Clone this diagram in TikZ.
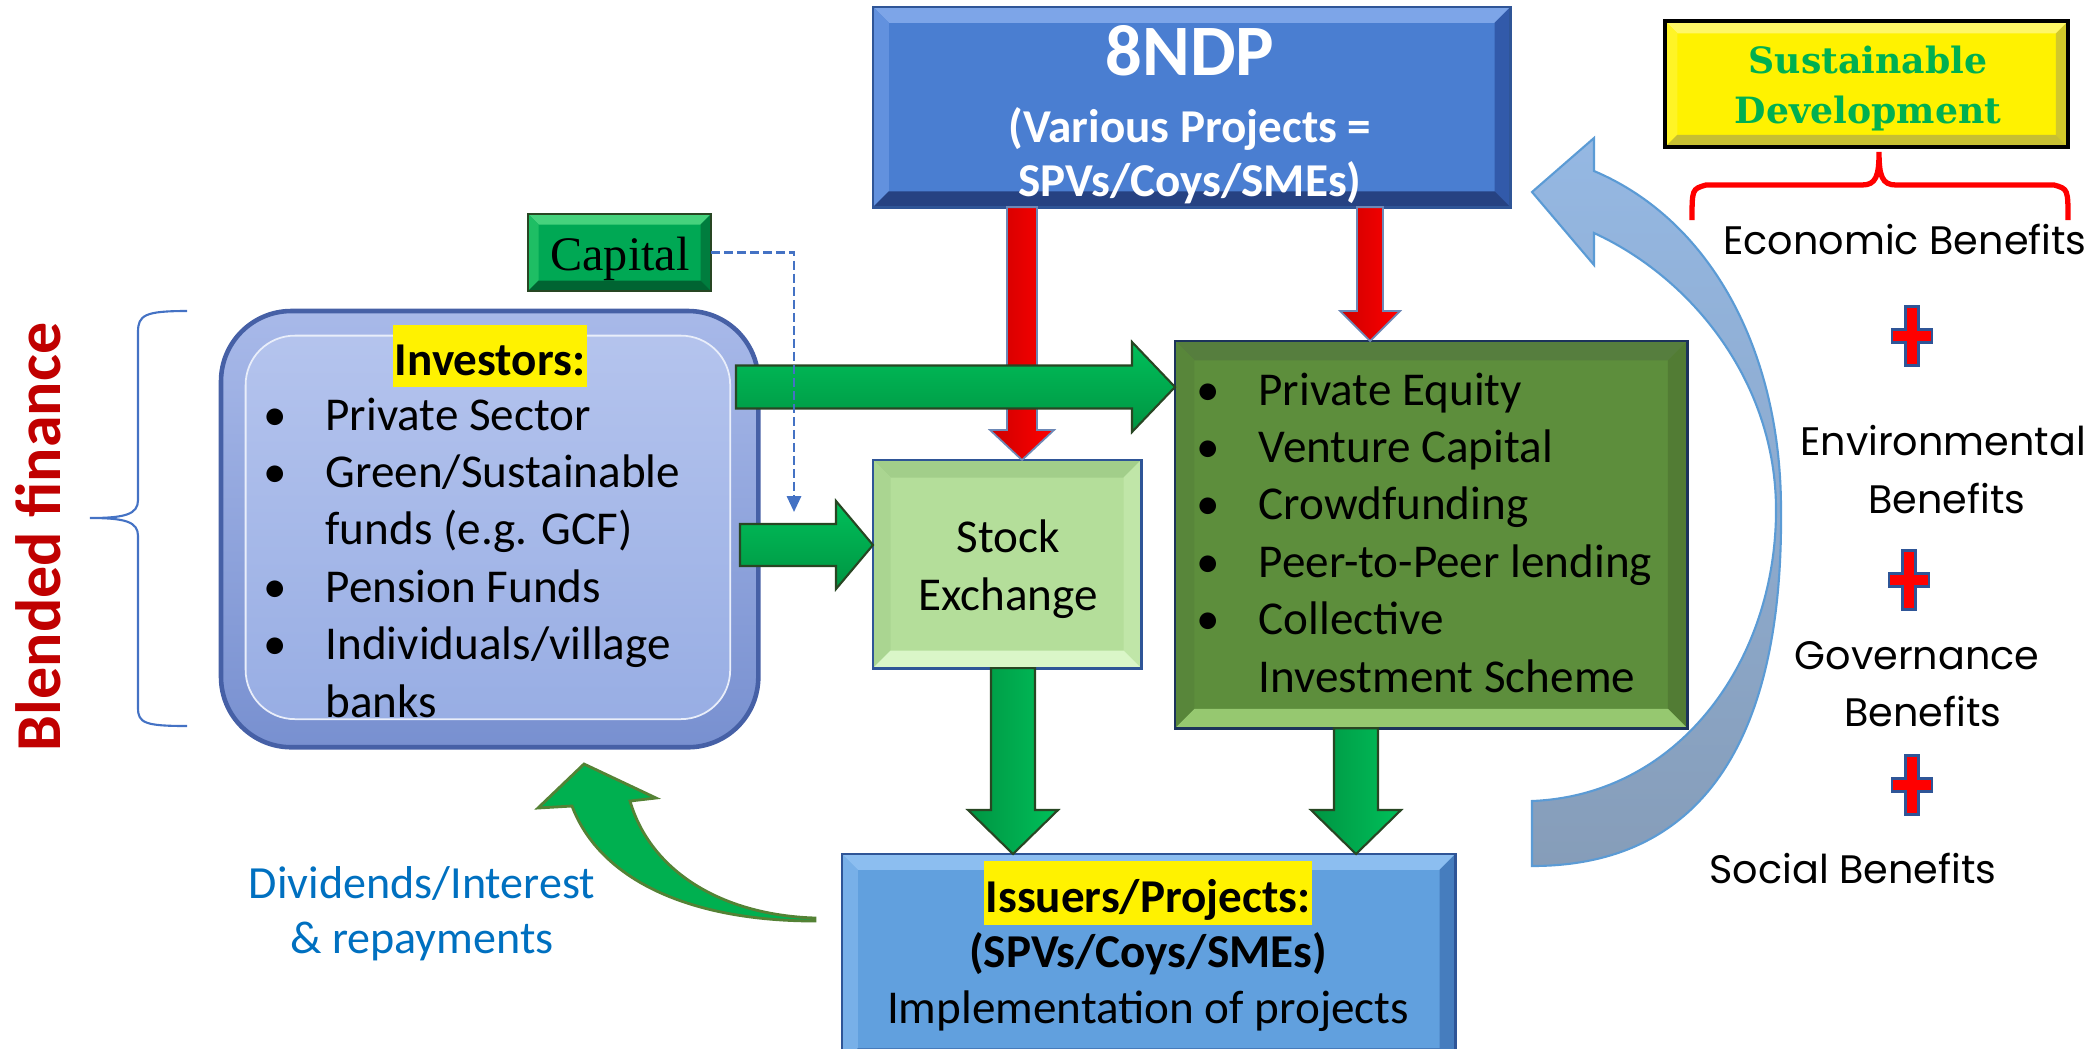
\documentclass[tikz,border=0pt]{standalone}
\usepackage{fontspec}
\setmainfont{Carlito}
\newfontfamily\gothic{Poppins}
\newfontfamily\tms{Liberation Serif}
\newfontfamily\dvs{DejaVu Serif}
\usetikzlibrary{calc,arrows.meta}
\setlength{\fboxsep}{0.5pt}
\def\upx{0.28453pt}
\newcommand\bodyfont{\fontsize{13.4}{16.33}\selectfont}
\newcommand\bul{\makebox[17.6pt][l]{\textbullet}}
\newcommand\ind{\hspace*{17.6pt}}
% colours
\definecolor{ndpblue}{RGB}{74,126,209}
\definecolor{ndptop}{RGB}{125,165,232}
\definecolor{ndpleft}{RGB}{98,145,222}
\definecolor{ndpright}{RGB}{50,90,170}
\definecolor{ndpbot}{RGB}{38,66,130}
\definecolor{capfill}{RGB}{0,168,84}
\definecolor{captop}{RGB}{70,210,125}
\definecolor{capleft}{RGB}{30,190,100}
\definecolor{capright}{RGB}{0,125,62}
\definecolor{capbot}{RGB}{0,100,50}
\definecolor{stkfill}{RGB}{180,222,154}
\definecolor{stktop}{RGB}{162,206,138}
\definecolor{stkleft}{RGB}{170,213,145}
\definecolor{stkright}{RGB}{192,230,168}
\definecolor{stkbot}{RGB}{218,246,200}
\definecolor{pefill}{RGB}{93,142,60}
\definecolor{petop}{RGB}{86,126,62}
\definecolor{peleft}{RGB}{88,134,58}
\definecolor{peright}{RGB}{82,124,52}
\definecolor{pebot}{RGB}{150,200,112}
\definecolor{issfill}{RGB}{97,160,222}
\definecolor{isstop}{RGB}{140,190,240}
\definecolor{issleft}{RGB}{120,176,232}
\definecolor{issright}{RGB}{70,125,190}
\definecolor{issbot}{RGB}{58,106,170}
\definecolor{navy}{RGB}{47,85,151}
\definecolor{gdark}{RGB}{0,148,66}
\definecolor{gmid}{RGB}{80,246,160}
\definecolor{gbase}{RGB}{0,192,90}
\definecolor{gline}{RGB}{40,70,35}
\definecolor{rdark}{RGB}{205,0,0}
\definecolor{rmid}{RGB}{255,45,45}
\definecolor{rbase}{RGB}{255,0,0}
\definecolor{arcTop}{RGB}{149,184,227}
\definecolor{arcBot}{RGB}{134,157,185}
\definecolor{arcLine}{RGB}{91,155,213}
\definecolor{darkred}{RGB}{192,0,0}
\definecolor{divblue}{RGB}{0,112,192}
\definecolor{bracebl}{RGB}{68,114,196}
\definecolor{susgreen}{RGB}{0,176,80}
\definecolor{divgreen}{RGB}{0,176,80}
\definecolor{divline}{RGB}{84,130,53}
\definecolor{invTop}{RGB}{182,197,238}
\definecolor{invBot}{RGB}{150,172,227}
\definecolor{invRimT}{RGB}{168,185,233}
\definecolor{invRimB}{RGB}{120,144,208}
\definecolor{invLine}{RGB}{70,96,166}
% block arrows: style, from, to, shaft half, head half, head length (px)
\newcommand\vblock[6]{\path[#1] let \p1=(#2), \p2=(#3) in
  ({\x1-#4*\upx},\y1) -- ({\x1-#4*\upx},{\y2+#6*\upx}) -- ({\x1-#5*\upx},{\y2+#6*\upx}) -- (\x1,\y2)
  -- ({\x1+#5*\upx},{\y2+#6*\upx}) -- ({\x1+#4*\upx},{\y2+#6*\upx}) -- ({\x1+#4*\upx},\y1) -- cycle;}
\newcommand\hblock[6]{\path[#1] let \p1=(#2), \p2=(#3) in
  (\x1,{\y1+#4*\upx}) -- ({\x2-#6*\upx},{\y1+#4*\upx}) -- ({\x2-#6*\upx},{\y1+#5*\upx}) -- (\x2,\y1)
  -- ({\x2-#6*\upx},{\y1-#5*\upx}) -- ({\x2-#6*\upx},{\y1-#4*\upx}) -- (\x1,{\y1-#4*\upx}) -- cycle;}
\newcommand\plussign[2]{\filldraw[plusst] ({#1-6.5},{#2-29.5}) -- ({#1+6.5},{#2-29.5}) -- ({#1+6.5},{#2-6.5})
  -- ({#1+20},{#2-6.5}) -- ({#1+20},{#2+6.5}) -- ({#1+6.5},{#2+6.5}) -- ({#1+6.5},{#2+29.5})
  -- ({#1-6.5},{#2+29.5}) -- ({#1-6.5},{#2+6.5}) -- ({#1-20},{#2+6.5}) -- ({#1-20},{#2-6.5})
  -- ({#1-6.5},{#2-6.5}) -- cycle;}
\tikzset{
  bevel/.style n args={5}{path picture={
    \fill[#1] (path picture bounding box.north west) -- (path picture bounding box.north east)
      -- ([shift={(-#5,-#5)}]path picture bounding box.north east) -- ([shift={(#5,-#5)}]path picture bounding box.north west) -- cycle;
    \fill[#2] (path picture bounding box.north west) -- ([shift={(#5,-#5)}]path picture bounding box.north west)
      -- ([shift={(#5,#5)}]path picture bounding box.south west) -- (path picture bounding box.south west) -- cycle;
    \fill[#3] (path picture bounding box.north east) -- ([shift={(-#5,-#5)}]path picture bounding box.north east)
      -- ([shift={(-#5,#5)}]path picture bounding box.south east) -- (path picture bounding box.south east) -- cycle;
    \fill[#4] (path picture bounding box.south west) -- (path picture bounding box.south east)
      -- ([shift={(-#5,#5)}]path picture bounding box.south east) -- ([shift={(#5,#5)}]path picture bounding box.south west) -- cycle;
  }},
  boxbase/.style={draw, inner sep=0, outer sep=0, anchor=north west},
  txt/.style={inner sep=0, anchor=base, font=\bodyfont},
  redarrow/.style={left color=rdark, middle color=rmid, right color=rbase, draw=navy!70, line width=0.5pt},
  greenv/.style={left color=gdark, middle color=gmid, right color=gbase, draw=gline, line width=0.6pt},
  greenh/.style={top color=gbase, middle color=gmid, bottom color=gdark, draw=gline, line width=0.6pt},
  plusst/.style={fill=red, draw=navy, line width=0.8pt},
  benefit/.style={inner sep=0, anchor=base, font=\gothic\fontsize{11.3}{13}\selectfont},
}
\begin{document}
\begin{tikzpicture}[x=0.01cm,y=-0.01cm]
\useasboundingbox (0,0) rectangle (2095,1048);

% big light-blue curved arrow (back to 8NDP)
\filldraw[top color=arcTop, bottom color=arcBot, draw=arcLine, line width=0.6pt]
  (1532,866) .. controls (1712,866) and (1783,725) .. (1781,510)
  .. controls (1781,350) and (1710,220) .. (1594,171)
  -- (1594,138) -- (1532,192) -- (1594,265) -- (1594,233)
  .. controls (1692,278) and (1776,382) .. (1776,510)
  .. controls (1776,660) and (1680,795) .. (1532,801) -- cycle;

% boxes
\node[boxbase, draw=navy, line width=0.8pt, fill=ndpblue, minimum width=6.37cm, minimum height=2cm,
  bevel={ndptop}{ndpleft}{ndpright}{ndpbot}{4.5pt}] (ndp) at (873,7) {};
\node[boxbase, draw=gline, line width=0.6pt, fill=capfill, minimum width=1.83cm, minimum height=0.77cm,
  bevel={captop}{capleft}{capright}{capbot}{3pt}] (cap) at (528,214) {};
\node[boxbase, draw=invLine, line width=1.3pt, rounded corners=20pt, top color=invRimT, bottom color=invRimB,
  minimum width=5.37cm, minimum height=4.36cm,
  path picture={\filldraw[top color=invTop, bottom color=invBot, draw=white!70!invTop, line width=0.5pt, rounded corners=14pt]
     ([shift={(7pt,-7pt)}]path picture bounding box.north west) rectangle ([shift={(-8pt,8pt)}]path picture bounding box.south east);}]
  (inv) at (221,311) {};
\node[boxbase, draw=navy, line width=0.8pt, fill=stkfill, minimum width=2.68cm, minimum height=2.08cm,
  bevel={stktop}{stkleft}{stkright}{stkbot}{5pt}] (stk) at (873,460) {};
\node[boxbase, draw=navy!60!black, line width=0.8pt, fill=pefill, minimum width=5.12cm, minimum height=3.87cm,
  bevel={petop}{peleft}{peright}{pebot}{5.5pt}] (pe) at (1175,341) {};
\node[boxbase, draw=navy, line width=0.8pt, fill=issfill, minimum width=6.13cm, minimum height=2.1cm,
  bevel={isstop}{issleft}{issright}{issbot}{4.5pt}] (iss) at (842,854) {};
\node[boxbase, draw=black, line width=1.2pt, fill=yellow, minimum width=4.03cm, minimum height=1.26cm,
  bevel={yellow!60!white}{yellow!85!white}{yellow!80!black}{yellow!75!black}{3.5pt}] (sus) at (1665,21) {};

% helper coordinates for arrow columns / rows
\coordinate (cR1) at (1022,0);
\coordinate (cR2) at (1370,0);
\coordinate (cG1) at (1013,0);
\coordinate (cG2) at (1356,0);
\coordinate (gaS) at (736,387);
\coordinate (gbS) at (740,545);
\coordinate (dtip) at (794,512);

% red arrows from 8NDP
\vblock{redarrow}{ndp.south -| cR1}{stk.north -| cR1}{15}{32}{30}
\vblock{redarrow}{ndp.south -| cR2}{pe.north -| cR2}{13}{30}{30}
% green arrows
\hblock{greenh}{gaS}{pe.west |- gaS}{21.5}{45}{43}
\hblock{greenh}{gbS}{stk.west |- gbS}{21}{44}{37}
\vblock{greenv}{stk.south -| cG1}{iss.north -| cG1}{22}{45}{44}
\vblock{greenv}{pe.south -| cG2}{iss.north -| cG2}{22}{45}{44}

% dashed capital connector
\draw[bracebl, line width=0.7pt, dash pattern=on 2.5pt off 1.2pt, -{Triangle[width=4pt,length=4.5pt]}]
  (cap.east) -| (dtip);

% curved green return arrow (dividends)
\filldraw[fill=divgreen, draw=divline, line width=0.8pt]
  (815,921) .. controls (690,921) and (600,880) .. (572,806)
  -- (538,808) -- (584,764) -- (656,798) -- (630,801)
  .. controls (650,870) and (720,915) .. (815,918) -- cycle;

% braces
\draw[bracebl, line width=0.6pt] (187,311) .. controls (145,311) and (138,315) .. (138,332) -- (138,500)
  .. controls (138,514) and (126,518) .. (90,518) .. controls (126,518) and (138,522) .. (138,536)
  -- (138,708) .. controls (138,723) and (145,726) .. (187,726);
\draw[red, line width=1.5pt] (1692,220) .. controls (1692,189) .. (1706,185) -- (1862,185)
  .. controls (1876,185) and (1879,176) .. (1879,152) .. controls (1879,176) and (1882,185) .. (1896,185)
  -- (2054,185) .. controls (2068,189) .. (2068,220);

% plus signs
\plussign{1912}{336}
\plussign{1909}{580}
\plussign{1912}{785}

% texts
\node[rotate=90, inner sep=0, text=darkred, font=\fontsize{18.2}{20}\selectfont\bfseries] (blend) at (38,537) {Blended finance};
\node[txt, text=white, font=\fontsize{20.6}{24}\selectfont\bfseries] (ndpA) at (1190,75) {8NDP};
\node[txt, text=white, font=\bodyfont\bfseries] (ndpB) at (1190,142) {(Various Projects =};
\node[txt, text=white, font=\bodyfont\bfseries] (ndpC) at (1190,196) {SPVs/Coys/SMEs)};
\node[txt, font=\tms\fontsize{13.7}{16}\selectfont] (capT) at (620,270) {Capital};
\node[txt, font=\bodyfont\bfseries] (invT) at (490,375) {\colorbox{yellow}{\rule[-2.85pt]{0pt}{16.5pt}Investors:}};
\node[inner sep=0, anchor=base west, font=\bodyfont] (invL) at (263,430)
  {\parbox[t]{140pt}{\bul Private Sector\\ \bul Green/Sustainable\\ \ind funds (e.g. GCF)\\ \bul Pension Funds\\ \bul Individuals/village\\ \ind banks}};
\node[txt] (stkA) at (1008,552) {Stock};
\node[txt] (stkB) at (1008,610) {Exchange};
\node[inner sep=0, anchor=base west, font=\bodyfont] (peL) at (1196,405)
  {\parbox[t]{160pt}{\bul Private Equity\\ \bul Venture Capital\\ \bul Crowdfunding\\ \bul Peer-to-Peer lending\\ \bul Collective\\ \ind Investment Scheme}};
\node[txt, font=\bodyfont\bfseries] (issA) at (1148,912) {\colorbox{yellow}{\rule[-3.1pt]{0pt}{17pt}Issuers/Projects:}};
\node[txt, font=\bodyfont\bfseries] (issB) at (1148,967) {(SPVs/Coys/SMEs)};
\node[txt] (issC) at (1148,1023) {Implementation of projects};
\node[txt, text=divblue, font=\fontsize{13.1}{15}\selectfont] (divA) at (422,898) {Dividends/Interest};
\node[txt, text=divblue, font=\fontsize{13.1}{15}\selectfont] (divB) at (422,953) {\& repayments};
\node[txt, text=susgreen, font=\dvs\fontsize{10.3}{12}\selectfont\bfseries] (susA) at (1868,73) {Sustainable};
\node[txt, text=susgreen, font=\dvs\fontsize{10.3}{12}\selectfont\bfseries] (susB) at (1868,123) {Development};
\node[benefit] (b1) at (1905,254) {Economic Benefits};
\node[benefit] (b2a) at (1943,455) {Environmental};
\node[benefit] (b2b) at (1947,513) {Benefits};
\node[benefit] (b3a) at (1917,669) {Governance};
\node[benefit] (b3b) at (1923,726) {Benefits};
\node[benefit] (b4) at (1853,883) {Social Benefits};
\end{tikzpicture}
\end{document}
